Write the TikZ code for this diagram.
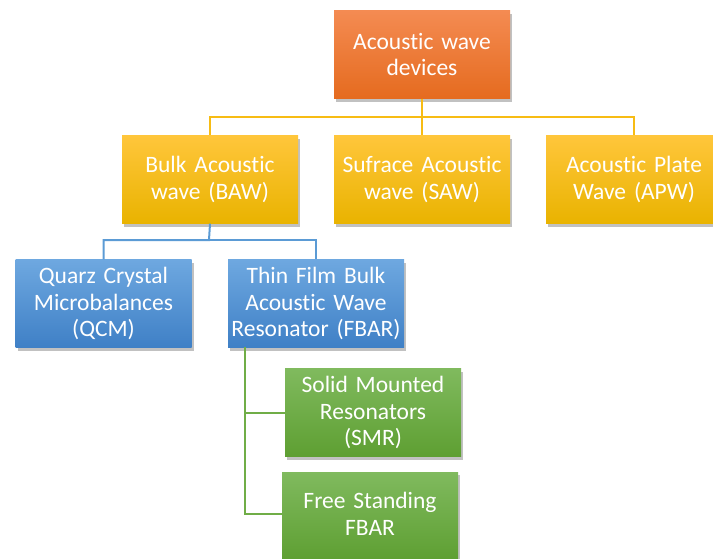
\documentclass[tikz,border=0pt]{standalone}
\usepackage{fontspec}
\setmainfont{Carlito}[Ligatures={NoCommon},WordSpace=0.75]
\usetikzlibrary{shadows}
\definecolor{orT}{HTML}{F48B52}
\definecolor{orB}{HTML}{E56B1F}
\definecolor{yeT}{HTML}{FFC63B}
\definecolor{yeB}{HTML}{E9B300}
\definecolor{blT}{HTML}{6EA8E0}
\definecolor{blB}{HTML}{3F80C6}
\definecolor{grT}{HTML}{80BA5E}
\definecolor{grB}{HTML}{5E9F32}
\definecolor{yeL}{HTML}{F7BC14}
\definecolor{blL}{HTML}{5B9BD5}
\definecolor{grL}{HTML}{70AD47}
\tikzset{
  box/.style={rectangle, minimum width=176pt, minimum height=88pt, text width=174pt,
    align=center, text=white, inner sep=0pt,
    font=\fontsize{23.5}{26.5}\selectfont,
    drop shadow={shadow xshift=2pt, shadow yshift=-3pt, opacity=0.35, fill=black!70}},
  obox/.style={box, top color=orT, bottom color=orB},
  ybox/.style={box, top color=yeT, bottom color=yeB},
  bbox/.style={box, top color=blT, bottom color=blB},
  gbox/.style={box, top color=grT, bottom color=grB},
  conn/.style={line width=2pt},
}
\begin{document}
\begin{tikzpicture}[x=1pt,y=-1pt]
\useasboundingbox (0,0) rectangle (713,558);
\clip (0,0) rectangle (713,558);
\node[obox] (top) at (422,54.5) {Acoustic wave\\devices};
\node[ybox] (baw) at (210,179.5) {Bulk Acoustic\\wave (BAW)};
\node[ybox] (saw) at (422,179.5) {Sufrace Acoustic\\wave (SAW)};
\node[ybox] (apw) at (634,179.5) {Acoustic Plate\\Wave (APW)};
\node[bbox] (qcm) at (103.5,303.5) {Quarz Crystal\\Microbalances\\(QCM)};
\node[bbox] (fbar) at (316,303.5) {Thin Film Bulk\\Acoustic Wave\\Resonator (FBAR)};
\node[gbox] (smr) at (373,412.5) {Solid Mounted\\Resonators\\(SMR)};
\node[gbox] (free) at (370,516) {Free Standing\\FBAR\\[-22pt]\mbox{}};
\coordinate (ybus) at (422,117);
\coordinate (bbus) at (209,240);
\coordinate (gtop) at (245,347);
\coordinate (gbot) at (245,514);
\draw[conn, yeL] (top.south) -- (ybus);
\draw[conn, yeL] (ybus) -| (baw.north);
\draw[conn, yeL] (ybus) -- (saw.north);
\draw[conn, yeL] (ybus) -| (apw.north);
\draw[conn, blL] (baw.south) -- (bbus) -| (qcm.north);
\draw[conn, blL] (bbus) -| (fbar.north);
\draw[conn, grL] (gtop) -- (gbot) -- (gbot -| free.west);
\draw[conn, grL] (gtop |- smr.west) -- (smr.west);
\end{tikzpicture}
\end{document}
